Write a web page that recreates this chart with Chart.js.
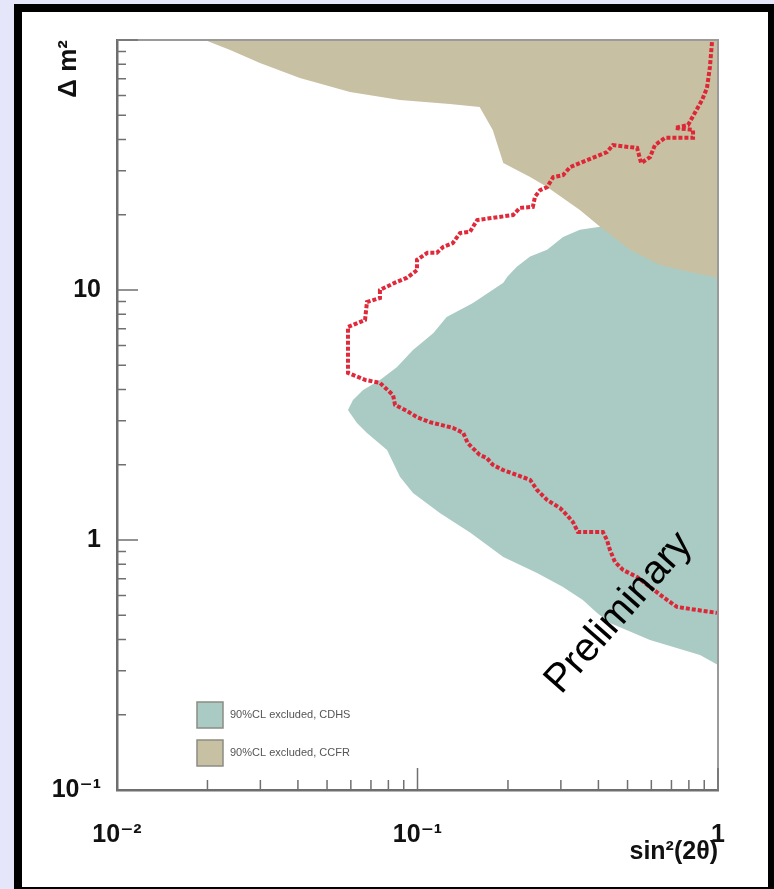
<!DOCTYPE html>
<html>
<head>
<meta charset="utf-8">
<script src="https://cdn.jsdelivr.net/npm/chart.js@4.4.1/dist/chart.umd.min.js"></script>
<style>
    html, body { margin: 0; padding: 0; width: 774px; height: 889px; overflow: hidden; background: #e6e6fa; }
    #frame { position: absolute; left: 14px; top: 4px; width: 762px; height: 891px; box-sizing: border-box; border: 8px solid #000; background: #fff; }
    #oscillation-plot { position: absolute; left: 0; top: 0; }
</style>
</head>
<body>
<div id="frame"></div>
<canvas id="oscillation-plot" width="774" height="889"></canvas>
<script>
// 90% CL excluded region, CDHS (sin^2(2theta), delta m^2)
const cdhsSin2 = [1, 0.405, 0.347, 0.305, 0.270, 0.237, 0.214, 0.199, 0.193, 0.153, 0.125, 0.113, 0.0966, 0.0855, 0.0750, 0.0659, 0.0610, 0.0587, 0.0596, 0.0629, 0.0679, 0.0792, 0.0874, 0.0966, 0.119, 0.150, 0.193, 0.250, 0.305, 0.355, 0.396, 0.437, 0.594, 0.871, 1];
const cdhsDm2 = [22.9, 17.9, 17.4, 16.3, 14.5, 13.6, 12.4, 11.3, 10.7, 8.87, 7.80, 6.73, 5.75, 4.92, 4.37, 3.98, 3.63, 3.31, 3.22, 2.94, 2.68, 2.29, 1.79, 1.54, 1.28, 1.07, 0.855, 0.738, 0.649, 0.575, 0.511, 0.466, 0.398, 0.347, 0.316];

// 90% CL excluded region, CCFR
const ccfrSin2 = [0.0196, 0.0238, 0.0299, 0.0406, 0.0596, 0.0874, 0.128, 0.161, 0.178, 0.193, 0.237, 0.270, 0.347, 0.405, 0.510, 0.641, 0.807, 1, 1];
const ccfrDm2 = [100, 91.2, 80.9, 70.5, 61.9, 57.5, 55.5, 54.0, 43.7, 32.2, 28.3, 25.8, 20.9, 17.9, 14.5, 12.6, 11.8, 11.2, 100];

// preliminary limit curve
const limitSin2 = [0.955, 0.940, 0.919, 0.885, 0.795, 0.719, 0.826, 0.826, 0.666, 0.617, 0.594, 0.555, 0.538, 0.447, 0.427, 0.347, 0.322, 0.305, 0.283, 0.270, 0.256, 0.246, 0.242, 0.219, 0.208, 0.158, 0.1495, 0.1385, 0.131, 0.122, 0.116, 0.108, 0.0996, 0.0996, 0.0923, 0.0842, 0.0750, 0.0750, 0.0679, 0.0669, 0.0587, 0.0587, 0.0669, 0.0750, 0.0829, 0.0842, 0.0923, 0.0996, 0.110, 0.131, 0.142, 0.147, 0.161, 0.170, 0.178, 0.1925, 0.214, 0.237, 0.250, 0.270, 0.298, 0.314, 0.329, 0.342, 0.414, 0.427, 0.437, 0.454, 0.483, 0.538, 0.594, 0.656, 0.730, 0.851, 0.992];
const limitDm2 = [98, 78.0, 64.3, 57.5, 45.7, 44.5, 43.7, 40.6, 40.6, 38.0, 34.0, 32.2, 37.0, 38.0, 35.6, 32.2, 31.0, 28.8, 28.3, 25.8, 25.1, 23.6, 21.5, 21.3, 19.95, 19.05, 17.1, 16.9, 15.4, 14.9, 14.1, 14.1, 13.2, 12.0, 11.2, 10.7, 10.0, 9.29, 8.95, 7.59, 7.11, 4.66, 4.37, 4.25, 3.80, 3.47, 3.28, 3.10, 2.96, 2.81, 2.68, 2.44, 2.19, 2.13, 2.00, 1.905, 1.82, 1.74, 1.585, 1.445, 1.343, 1.259, 1.180, 1.076, 1.076, 1.0, 0.912, 0.817, 0.759, 0.711, 0.649, 0.592, 0.540, 0.525, 0.511];

const xTickValues = [0.01, 0.1, 1];
const xTickLabels = ["10⁻²", "10⁻¹", "1"];
const yTickValues = [0.1, 1, 10];
const yTickLabels = ["10⁻¹", "1", "10"];
const legendLabels = ["90%CL excluded, CDHS", "90%CL excluded, CCFR"];

const cdhsColor = "#a9cbc3";
const ccfrColor = "#c8c0a2";
const fontFamily = "'Liberation Sans', 'DejaVu Sans', sans-serif";

function toPoints(xs, ys) {
    return xs.map((x, i) => ({ x: x, y: ys[i] }));
}

function sameValue(a, b) {
    return Math.abs(Math.log10(a) - Math.log10(b)) < 1e-6;
}

function tickLabel(values, labels) {
    return (value) => {
        const i = values.findIndex((v) => sameValue(v, value));
        return i >= 0 ? labels[i] : "";
    };
}

// 1..9 per decade, like the paper's axes
function logTicks(scale, fromExp, toExp) {
    const ticks = [];
    for (let e = fromExp; e < toExp; e++) {
        for (let m = 1; m < 10; m++) {
            ticks.push({ value: m * Math.pow(10, e) });
        }
    }
    ticks.push({ value: Math.pow(10, toExp) });
    scale.ticks = ticks;
}

function isDecade(v) {
    return sameValue(v, Math.pow(10, Math.round(Math.log10(v))));
}

// ticks pointing into the plot, plus the top/right frame
const innerTicks = {
    id: "innerTicks",
    afterDraw(chart) {
        const { ctx, chartArea: area } = chart;
        const x = chart.scales.x;
        const y = chart.scales.y;
        ctx.save();
        ctx.strokeStyle = "#9a9a9a";
        ctx.lineWidth = 2;
        ctx.beginPath();
        ctx.moveTo(area.left, area.top);
        ctx.lineTo(area.right, area.top);
        ctx.lineTo(area.right, area.bottom);
        ctx.stroke();

        ctx.strokeStyle = "#707070";
        ctx.lineWidth = 1.5;
        ctx.beginPath();
        x.ticks.forEach((t) => {
            const px = x.getPixelForValue(t.value);
            const len = isDecade(t.value) ? 22 : 10;
            ctx.moveTo(px, area.bottom);
            ctx.lineTo(px, area.bottom - len);
        });
        y.ticks.forEach((t) => {
            const py = y.getPixelForValue(t.value);
            const len = isDecade(t.value) ? 21 : 9;
            ctx.moveTo(area.left, py);
            ctx.lineTo(area.left + len, py);
        });
        ctx.stroke();
        ctx.restore();
    },
};

// legend boxes and the "Preliminary" stamp
const annotations = {
    id: "annotations",
    afterDatasetsDraw(chart) {
        const ctx = chart.ctx;
        ctx.save();
        const colors = [cdhsColor, ccfrColor];
        const boxTops = [702, 740];
        legendLabels.forEach((label, i) => {
            ctx.fillStyle = colors[i];
            ctx.fillRect(197, boxTops[i], 26, 26);
            ctx.strokeStyle = "#8c8c84";
            ctx.lineWidth = 1.5;
            ctx.strokeRect(197, boxTops[i], 26, 26);
            ctx.fillStyle = "#555";
            ctx.font = "11px " + fontFamily;
            ctx.textBaseline = "middle";
            ctx.fillText(label, 230, boxTops[i] + 13);
        });

        ctx.translate(619, 613);
        ctx.rotate(-48.5 * Math.PI / 180);
        ctx.fillStyle = "#000";
        ctx.font = "40px " + fontFamily;
        ctx.textAlign = "center";
        ctx.textBaseline = "middle";
        ctx.fillText("Preliminary", 0, 0);
        ctx.restore();
    },
};

const ctx = document.getElementById("oscillation-plot").getContext("2d");
const oscillationChart = new Chart(ctx, {
    type: "line",
    data: {
        datasets: [
            {
                label: "limit",
                data: toPoints(limitSin2, limitDm2),
                borderColor: "rgba(222, 30, 48, 0.95)",
                borderWidth: 4,
                borderDash: [4, 2],
                pointRadius: 0,
                fill: false,
                order: 0,
            },
            {
                label: legendLabels[1],
                data: toPoints(ccfrSin2, ccfrDm2),
                borderWidth: 0,
                pointRadius: 0,
                backgroundColor: ccfrColor,
                fill: "shape",
                order: 1,
            },
            {
                label: legendLabels[0],
                data: toPoints(cdhsSin2, cdhsDm2),
                borderWidth: 0,
                pointRadius: 0,
                backgroundColor: cdhsColor,
                fill: "shape",
                order: 2,
            },
        ],
    },
    options: {
        responsive: false,
        animation: false,
        layout: { padding: { left: 0, top: 40, right: 56, bottom: 0 } },
        plugins: {
            legend: { display: false },
            tooltip: { enabled: false },
        },
        scales: {
            x: {
                type: "logarithmic",
                min: 0.01,
                max: 1,
                grid: { display: false },
                border: { display: true, color: "#6e6e6e", width: 2.5 },
                afterBuildTicks: (scale) => logTicks(scale, -2, 0),
                afterFit: (scale) => { scale.height = 99; },
                ticks: {
                    autoSkip: false,
                    maxRotation: 0,
                    padding: 22,
                    color: "#111",
                    font: { family: fontFamily, size: 25, weight: "bold" },
                    callback: tickLabel(xTickValues, xTickLabels),
                },
                title: {
                    display: true,
                    text: "sin²(2θ)",
                    align: "end",
                    color: "#111",
                    padding: { top: 0, bottom: 22 },
                    font: { family: fontFamily, size: 25, weight: "bold" },
                },
            },
            y: {
                type: "logarithmic",
                min: 0.1,
                max: 100,
                grid: { display: false },
                border: { display: true, color: "#6e6e6e", width: 2.5 },
                afterBuildTicks: (scale) => logTicks(scale, -1, 2),
                afterFit: (scale) => { scale.width = 117; },
                ticks: {
                    autoSkip: false,
                    padding: 8,
                    color: "#111",
                    font: { family: fontFamily, size: 25, weight: "bold" },
                    callback: tickLabel(yTickValues, yTickLabels),
                },
                title: {
                    display: true,
                    text: "Δ m²",
                    align: "end",
                    color: "#111",
                    padding: { top: 53, bottom: 0 },
                    font: { family: fontFamily, size: 26, weight: "bold" },
                },
            },
        },
    },
    plugins: [innerTicks, annotations],
});
</script>
</body>
</html>
